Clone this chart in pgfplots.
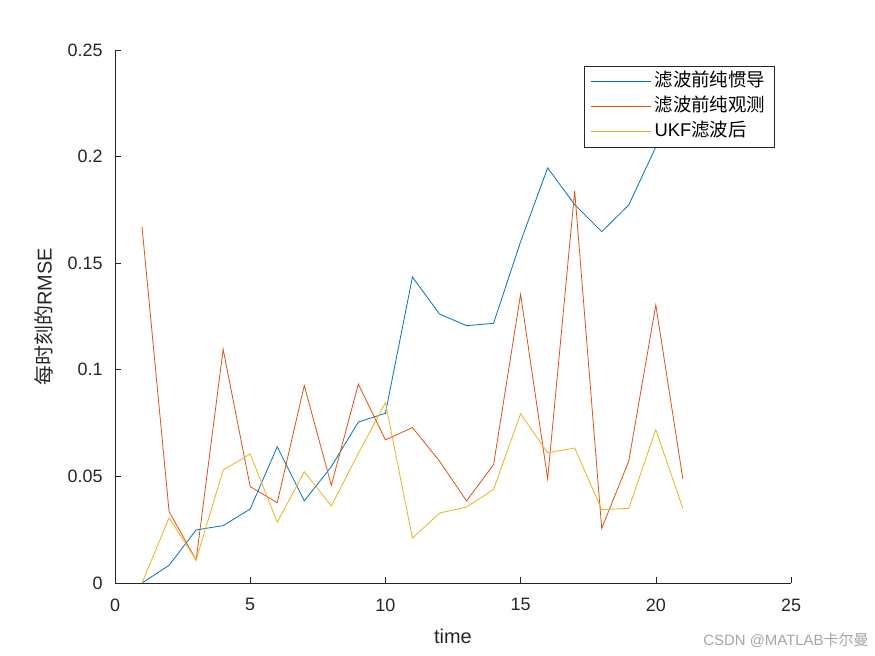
\documentclass[border=0pt]{standalone}
\usepackage{fontspec}
\setmainfont{Liberation Sans}
\newfontfamily\cjk{Noto Sans CJK SC}
\usepackage{pgfplots}
\pgfplotsset{compat=1.18}
\definecolor{mblue}{rgb}{0,0.447,0.741}
\definecolor{mred}{rgb}{0.85,0.325,0.098}
\definecolor{myellow}{rgb}{0.929,0.694,0.125}
\definecolor{axc}{HTML}{262626}
\begin{document}
\begin{tikzpicture}
\path[use as bounding box] (-115bp,-73bp) rectangle (760bp,583bp);
\begin{axis}[
  scale only axis, width=676bp, height=533bp,
  at={(0,0)}, anchor=south west,
  xmin=0, xmax=25, ymin=0, ymax=0.25,
  axis x line*=bottom, axis y line*=left,
  axis line style={-, axc, line width=0.6bp},
  tick style={axc, line width=0.6bp},
  major tick length=6.5bp,
  tick align=inside,
  xtick={0,5,10,15,20,25},
  ytick={0,0.05,0.1,0.15,0.2,0.25},
  yticklabels={0,0.05,0.1,0.15,0.2,0.25},
  scaled y ticks=false,
  /pgf/number format/assume math mode=true,
  ticklabel style={font=\fontsize{18}{18}\selectfont, text=axc},
  yticklabel style={xshift=-9bp},
  xticklabel style={yshift=-12bp},
  xlabel={time},
  ylabel={{\cjk 每时刻的}RMSE},
  label style={font=\fontsize{20}{20}\selectfont, text=axc},
  xlabel style={at={(axis description cs:0.5,-0.0994)}, anchor=center},
  ylabel style={at={(axis description cs:-0.105,0.5)}, anchor=center},
  legend cell align=left,
  legend image code/.code={\draw[#1] (0bp,0bp) -- (60bp,0bp);},
  legend style={at={(1,1)}, anchor=north east, xshift=-16bp, yshift=-16bp,
    draw=axc, fill=white, line width=0.6bp,
    font=\fontsize{18.5}{18.5}\selectfont,
    inner xsep=6bp, inner ysep=3bp, row sep=0bp,
    nodes={text height=13bp, text depth=4bp, inner ysep=4bp, inner xsep=3.5bp}},
]
\addplot[mblue, line width=0.8bp] coordinates {
(1,0) (2,0.0083) (3,0.0249) (4,0.0269) (5,0.0347) (6,0.0639) (7,0.0385)
(8,0.0546) (9,0.0755) (10,0.0796) (11,0.1435) (12,0.1262) (13,0.1207)
(14,0.1218) (15,0.1601) (16,0.1947) (17,0.1775) (18,0.1648) (19,0.1773)
(20,0.2045) (21,0.225)};
\addlegendentry{{\cjk 滤波前纯惯导}}
\addplot[mred, line width=0.8bp] coordinates {
(1,0.167) (2,0.0335) (3,0.0108) (4,0.1096) (5,0.0452) (6,0.0377) (7,0.0926)
(8,0.0458) (9,0.0933) (10,0.0671) (11,0.0729) (12,0.0572) (13,0.0385)
(14,0.0555) (15,0.1354) (16,0.0488) (17,0.1839) (18,0.0256) (19,0.0572)
(20,0.1304) (21,0.0489)};
\addlegendentry{{\cjk 滤波前纯观测}}
\addplot[myellow, line width=0.8bp] coordinates {
(1,0) (2,0.0306) (3,0.0108) (4,0.053) (5,0.0605) (6,0.0285) (7,0.0522)
(8,0.0361) (9,0.0608) (10,0.0846) (11,0.021) (12,0.0328) (13,0.0356)
(14,0.0439) (15,0.0794) (16,0.0611) (17,0.0633) (18,0.0344) (19,0.035)
(20,0.0719) (21,0.035)};
\addlegendentry{UKF{\cjk 滤波后}}
\end{axis}
\node[anchor=east, text=black!35, font=\fontsize{15}{15}\selectfont] at (757bp,-57bp) {CSDN @MATLAB{\cjk 卡尔曼}};
\end{tikzpicture}
\end{document}
